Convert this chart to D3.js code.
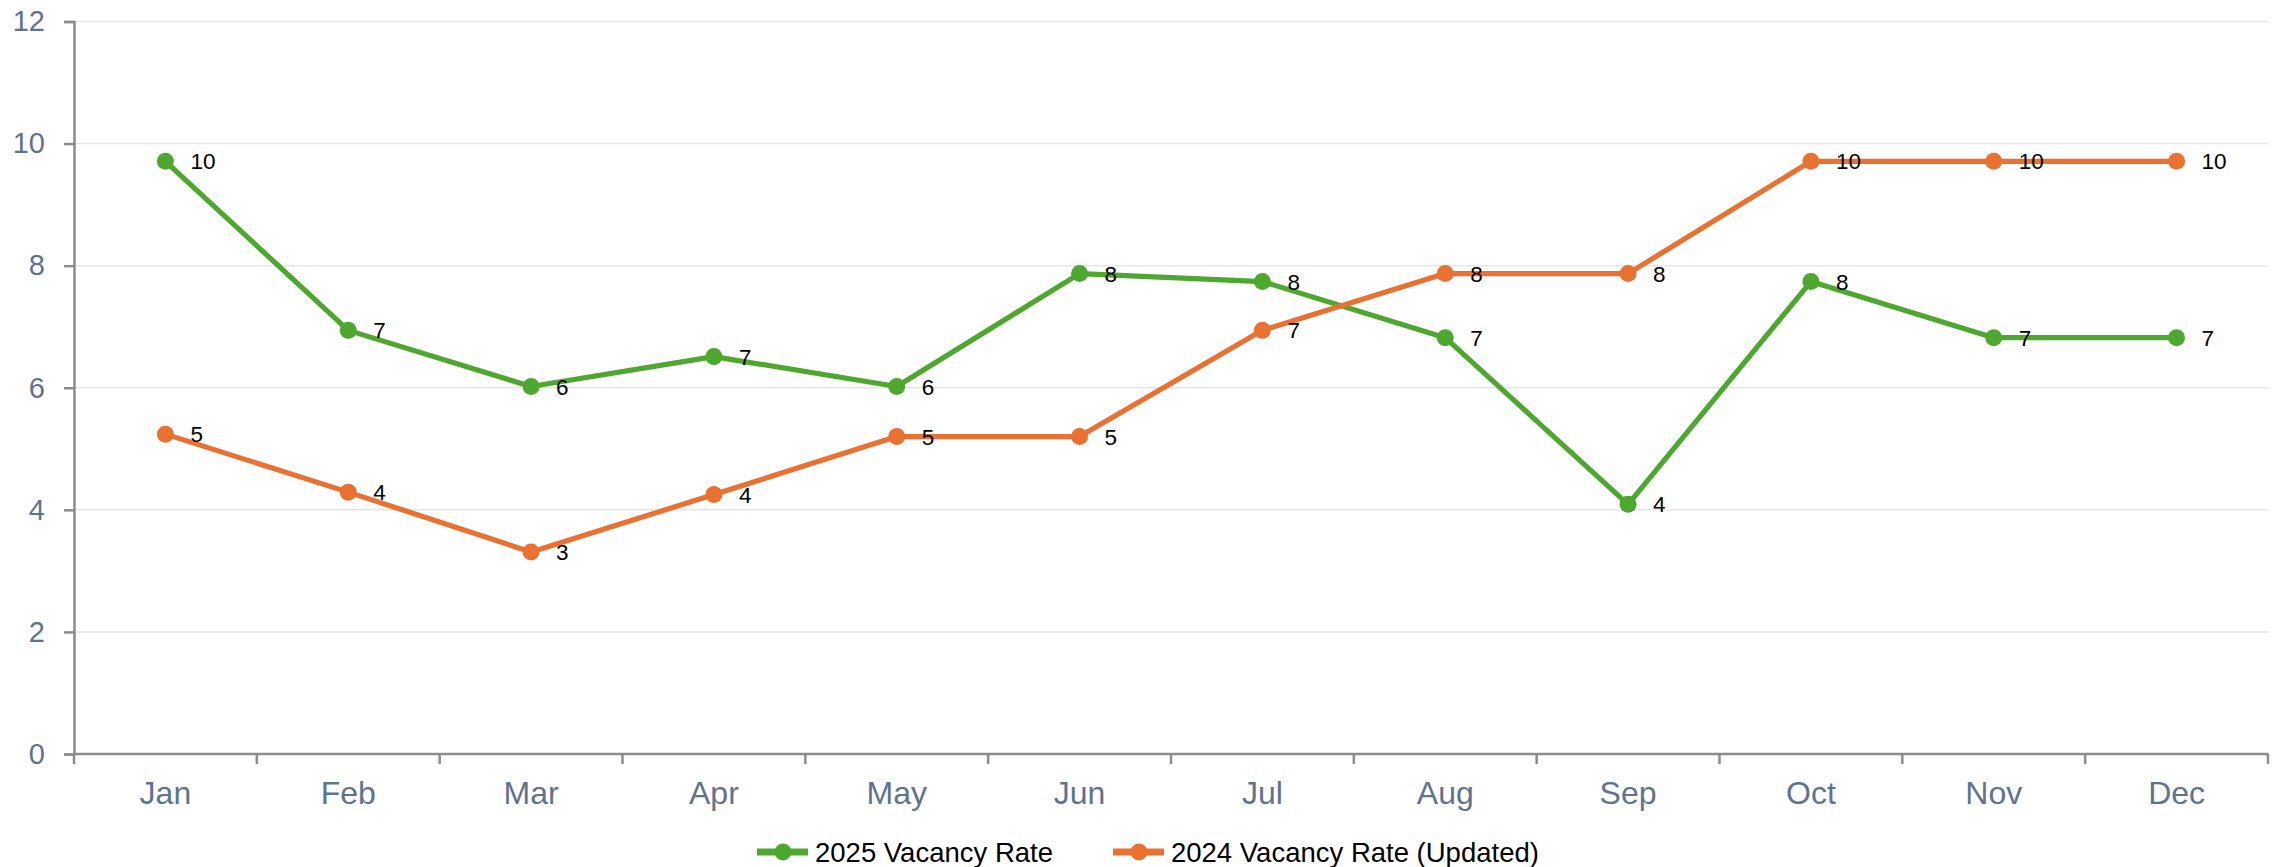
<!DOCTYPE html>
<html>
<head>
<meta charset="utf-8">
<script src="https://cdn.jsdelivr.net/npm/d3@7/dist/d3.min.js"></script>
<style>
  html, body { margin: 0; padding: 0; background: #ffffff; }
  svg { display: block; font-family: "Liberation Sans", Arial, sans-serif; }
</style>
</head>
<body>
<svg id="chart" width="2277" height="867"></svg>
<script>
// Monthly vacancy rates (%)
const months = ["Jan", "Feb", "Mar", "Apr", "May", "Jun", "Jul", "Aug", "Sep", "Oct", "Nov", "Dec"];
const vacancy2025 = [9.71, 6.94, 6.02, 6.51, 6.02, 7.87, 7.74, 6.82, 4.09, 7.74, 6.82, 6.82];
const vacancy2024 = [5.24, 4.29, 3.31, 4.25, 5.20, 5.20, 6.94, 7.87, 7.87, 9.71, 9.71, 9.71];
const yTicks = [0, 2, 4, 6, 8, 10, 12];

const seriesList = [
  { name: "2025 Vacancy Rate", values: vacancy2025, color: "#4EA72E" },
  { name: "2024 Vacancy Rate (Updated)", values: vacancy2024, color: "#E97132" }
];

const W = 2277, H = 867;
const margin = { top: 21.5, right: 9, bottom: 113, left: 74 };
const innerW = W - margin.left - margin.right;
const innerH = H - margin.top - margin.bottom;

const svg = d3.select("#chart");
const g = svg.append("g").attr("transform", `translate(${margin.left},${margin.top})`);

const x = d3.scaleBand().domain(months).range([0, innerW]);
const y = d3.scaleLinear().domain([0, 12]).range([innerH, 0]);

const axisColor = "#8c8c8c";
const labelColor = "#5f7390";
const fontStack = "'Liberation Sans', Arial, sans-serif";

// Horizontal gridlines
g.append("g")
  .selectAll("line")
  .data(yTicks.filter(d => d > 0))
  .join("line")
  .attr("x1", 0).attr("x2", innerW)
  .attr("y1", d => y(d)).attr("y2", d => y(d))
  .attr("stroke", "#e6e6e6")
  .attr("stroke-width", 1.5);

// Y axis
const yAxis = g.append("g")
  .call(d3.axisLeft(y).tickValues(yTicks).tickSize(10).tickPadding(19));
yAxis.select(".domain").attr("stroke", axisColor).attr("stroke-width", 2.5);
yAxis.selectAll(".tick line").attr("stroke", axisColor).attr("stroke-width", 2.5);
yAxis.selectAll(".tick text")
  .attr("fill", labelColor)
  .style("font-size", "29px")
  .style("font-family", fontStack);

// X axis: labels at band centres, ticks at band boundaries
const xAxis = g.append("g")
  .attr("transform", `translate(0,${innerH})`)
  .call(d3.axisBottom(x).tickSize(0).tickPadding(27));
xAxis.select(".domain").remove();
xAxis.selectAll(".tick text")
  .attr("fill", labelColor)
  .style("font-size", "32px")
  .style("font-family", fontStack);

const boundaries = months.map(m => x(m)).concat([x.range()[1]]);
g.append("g")
  .attr("transform", `translate(0,${innerH})`)
  .selectAll("line")
  .data(boundaries)
  .join("line")
  .attr("x1", d => d).attr("x2", d => d)
  .attr("y1", 0).attr("y2", 10)
  .attr("stroke", axisColor)
  .attr("stroke-width", 2.5);
g.append("line")
  .attr("x1", 0).attr("x2", innerW)
  .attr("y1", innerH).attr("y2", innerH)
  .attr("stroke", axisColor)
  .attr("stroke-width", 2.5);

// Series lines, markers and value labels
const cx = m => x(m) + x.bandwidth() / 2;
const line = d3.line().x(d => cx(d.month)).y(d => y(d.value));
const fmt = d3.format(".0f");

seriesList.forEach(s => {
  const pts = months.map((m, i) => ({ month: m, value: s.values[i] }));
  const sg = g.append("g");
  sg.append("path")
    .datum(pts)
    .attr("d", line)
    .attr("fill", "none")
    .attr("stroke", s.color)
    .attr("stroke-width", 5.2)
    .attr("stroke-linejoin", "round");
  sg.selectAll("circle")
    .data(pts)
    .join("circle")
    .attr("cx", d => cx(d.month))
    .attr("cy", d => y(d.value))
    .attr("r", 8.5)
    .attr("fill", s.color);
  s.points = pts;
});

seriesList.forEach(s => {
  g.append("g")
    .selectAll("text")
    .data(s.points)
    .join("text")
    .attr("x", d => cx(d.month) + 25)
    .attr("y", d => y(d.value))
    .attr("dy", "0.36em")
    .attr("fill", "#000000")
    .style("font-size", "22.5px")
    .text(d => fmt(d.value));
});

// Legend
const legend = svg.append("g").attr("transform", "translate(757,852)");
let offset = 0;
seriesList.forEach(s => {
  const item = legend.append("g").attr("transform", `translate(${offset},0)`);
  item.append("line")
    .attr("x1", 0).attr("x2", 51)
    .attr("y1", 0).attr("y2", 0)
    .attr("stroke", s.color)
    .attr("stroke-width", 7);
  item.append("circle")
    .attr("cx", 26).attr("cy", 0).attr("r", 8.5)
    .attr("fill", s.color);
  const t = item.append("text")
    .attr("x", 58).attr("y", 0)
    .attr("dy", "0.36em")
    .attr("fill", "#000000")
    .style("font-size", "27.5px")
    .text(s.name);
  offset += 58 + t.node().getComputedTextLength() + 60;
});
</script>
</body>
</html>
